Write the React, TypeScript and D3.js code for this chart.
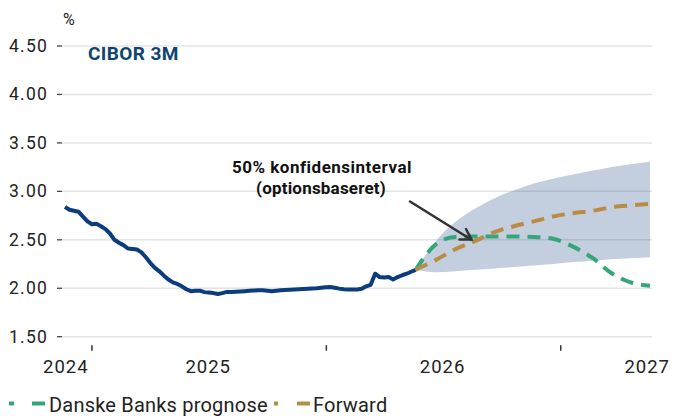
import React from "react";
import * as d3 from "d3";

// historic CIBOR 3M, weekly from 20 Nov 2024
const histStart = new Date(2024, 10, 20);
const histValues = [
  2.84, 2.81, 2.8, 2.79, 2.74, 2.69, 2.66, 2.665, 2.64, 2.61, 2.565, 2.5, 2.47, 2.445, 2.41, 2.405,
  2.4, 2.37, 2.32, 2.26, 2.21, 2.175, 2.13, 2.09, 2.06, 2.045, 2.02, 1.99, 1.97, 1.975, 1.975, 1.96,
  1.955, 1.95, 1.94, 1.95, 1.962, 1.962, 1.965, 1.967, 1.97, 1.973, 1.976, 1.98, 1.98, 1.975, 1.97,
  1.975, 1.98, 1.983, 1.985, 1.987, 1.99, 1.992, 1.995, 1.997, 2.0, 2.005, 2.01, 2.012, 2.005, 1.996,
  1.99, 1.987, 1.987, 1.987, 1.995, 2.02, 2.035, 2.15, 2.115, 2.11, 2.115, 2.09, 2.115, 2.134, 2.15,
  2.17, 2.19,
];

// forecast, monthly from 20 May 2026
const fcStart = new Date(2026, 4, 20);
const danskeValues = [2.19, 2.45, 2.53, 2.535, 2.535, 2.535, 2.53, 2.51, 2.43, 2.31, 2.16, 2.06, 2.025];
const forwardValues = [2.19, 2.29, 2.4, 2.485, 2.58, 2.64, 2.69, 2.74, 2.775, 2.8, 2.835, 2.855, 2.87];
const bandUpper = [2.19, 2.48, 2.68, 2.82, 2.93, 3.01, 3.08, 3.13, 3.175, 3.215, 3.25, 3.28, 3.305];
const bandLower = [2.19, 2.165, 2.175, 2.19, 2.205, 2.22, 2.235, 2.25, 2.27, 2.285, 2.3, 2.31, 2.32];

const yTicks = [1.5, 2.0, 2.5, 3.0, 3.5, 4.0, 4.5];
const yearLabels = ["2024", "2025", "2026", "2027"];

const FONT = "Roboto, sans-serif";
const NAVY = "#0b3c7d";
const GREEN = "#37a57a";
const GOLD = "#b98c45";

export default function App() {
  const W = 675;
  const H = 416;
  const x0 = 65;
  const x1 = 650;

  const hist = histValues.map((v, i) => ({ d: d3.timeWeek.offset(histStart, i), v }));
  const fc = danskeValues.map((v, i) => ({
    d: d3.timeMonth.offset(fcStart, i),
    danske: v,
    fwd: forwardValues[i],
    hi: bandUpper[i],
    lo: bandLower[i],
  }));

  const x = d3
    .scaleTime()
    .domain([histStart, fc[fc.length - 1].d])
    .range([x0, x1]);
  const y = d3.scaleLinear().domain([1.5, 4.5]).range([336.7, 46]);

  const histLine = d3
    .line<{ d: Date; v: number }>()
    .x((p) => x(p.d))
    .y((p) => y(p.v));
  const fcLine = (key: "danske" | "fwd") =>
    d3
      .line<(typeof fc)[number]>()
      .x((p) => x(p.d))
      .y((p) => y(p[key]))
      .curve(d3.curveMonotoneX)(fc);
  const band = d3
    .area<(typeof fc)[number]>()
    .x((p) => x(p.d))
    .y0((p) => y(p.lo))
    .y1((p) => y(p.hi))
    .curve(d3.curveMonotoneX)(fc);

  const yearTicks = [2025, 2026, 2027].map((yr) => new Date(yr, 0, 1));
  const labelX = yearLabels.map((yr) => {
    const mid = x(new Date(+yr, 6, 1));
    return Math.max(x0 + 1, Math.min(x1 - 2, mid));
  });

  const axisY = 336.7;

  return (
    <svg
      width={W}
      height={H}
      style={{ position: "absolute", left: 0, top: 0, background: "#fff" }}
      fontFamily={FONT}
    >
      {/* gridlines + y ticks */}
      {yTicks.map((t) => (
        <g key={t}>
          <line x1={62} x2={652} y1={y(t)} y2={y(t)} stroke="#e4e4e4" strokeWidth={1.5} />
          <line x1={57} x2={62} y1={y(t)} y2={y(t)} stroke="#444" strokeWidth={1.3} />
          <text x={48} y={y(t) + 6} textAnchor="end" fontSize={17.5} letterSpacing={1.2} fill="#222">
            {t.toFixed(2)}
          </text>
        </g>
      ))}

      <path d={band ?? ""} fill="#2f5a8f" fillOpacity={0.29} />

      {/* x axis */}
      {yearTicks.map((d, i) => (
        <line key={i} x1={x(d)} x2={x(d)} y1={axisY + 8.5} y2={axisY + 14} stroke="#333" strokeWidth={1.5} />
      ))}
      {yearLabels.map((lab, i) => (
        <text
          key={lab}
          x={labelX[i]}
          y={373}
          textAnchor={i === yearLabels.length - 1 ? "end" : i === 0 ? "start" : "middle"}
          dx={i === 0 ? -23 : i === yearLabels.length - 1 ? 22 : 0}
          fontSize={18.5}
          letterSpacing={1}
          fill="#222"
        >
          {lab}
        </text>
      ))}

      <text x={63} y={25} fontSize={16} fill="#222">
        %
      </text>
      <text x={88} y={60} fontSize={19} letterSpacing={0.4} fontWeight={700} fill="#0f4470">
        CIBOR 3M
      </text>

      {/* series */}
      <path d={histLine(hist) ?? ""} fill="none" stroke={NAVY} strokeWidth={4} strokeLinejoin="round" />
      <path d={fcLine("danske") ?? ""} fill="none" stroke={GREEN} strokeWidth={4} strokeDasharray="13 8" />
      <path d={fcLine("fwd") ?? ""} fill="none" stroke={GOLD} strokeWidth={4} strokeDasharray="13 8" />

      {/* annotation */}
      <text x={322} y={172.5} textAnchor="middle" fontSize={17} letterSpacing={0.5} fontWeight={700} fill="#111">
        50% konfidensinterval
      </text>
      <text x={321} y={194} textAnchor="middle" fontSize={17} letterSpacing={0.2} fontWeight={700} fill="#111">
        (optionsbaseret)
      </text>
      <g stroke="#333" strokeWidth={2.5} fill="none" strokeLinecap="round">
        <line x1={410} y1={201.5} x2={471} y2={239.5} />
        <polyline points="466,229 471.5,239.5 459.5,239.5" />
      </g>

      {/* legend */}
      <g>
        <line x1={9} x2={45} y1={403.5} y2={403.5} stroke={GREEN} strokeWidth={4} strokeDasharray="5 18 13" />
        <text x={49} y={411.5} fontSize={20} letterSpacing={0.2} fill="#222">
          Danske Banks prognose
        </text>
        <line x1={274} x2={310} y1={403.5} y2={403.5} stroke={GOLD} strokeWidth={4} strokeDasharray="4 19 13" />
        <text x={313} y={411.5} fontSize={20} letterSpacing={0.2} fill="#222">
          Forward
        </text>
      </g>
    </svg>
  );
}
